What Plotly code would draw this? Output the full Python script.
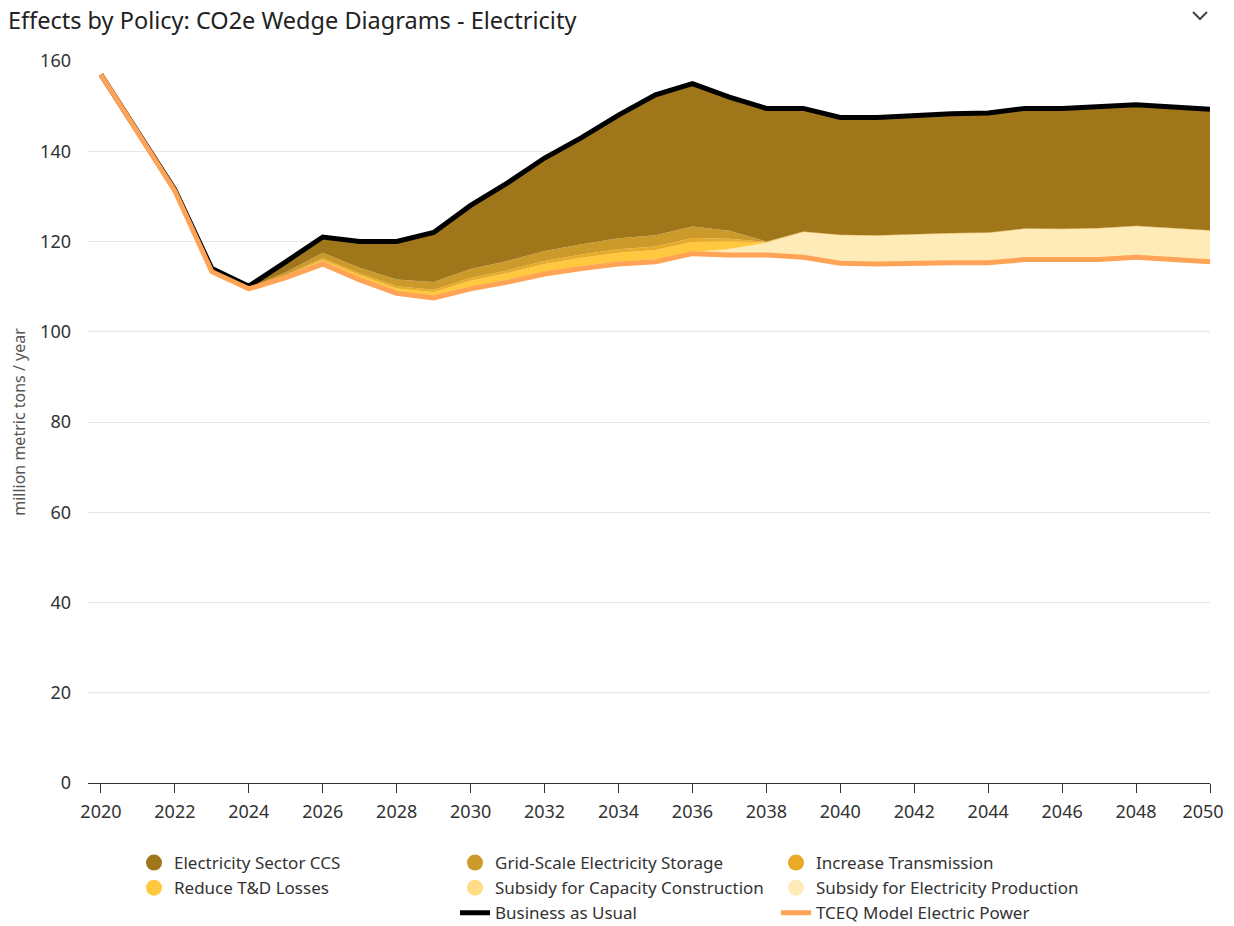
import plotly.graph_objects as go

years = list(range(2020, 2051))

tceq = [157, 144, 131.2, 113.3, 109.5, 112, 115, 111.5, 108.5, 107.5,
        109.5, 111, 112.8, 114, 115, 115.5, 117.3, 117, 117, 116.5,
        115.2, 115, 115.2, 115.3, 115.3, 116, 116, 116, 116.5, 116, 115.5]

bau = [157, 144, 131.5, 114, 110.1, 115.5, 121, 120, 120, 122,
       128, 133, 138.5, 143, 148, 152.5, 155, 152, 149.5, 149.5,
       147.5, 147.5, 148, 148.3, 148.5, 149.5, 149.5, 150, 150.3, 149.8, 149.3]

sub_prod = [0, 0, 0, 0, 0, 0, 0, 0, 0, 0,
            0, 0, 0, 0, 0, 0, 0, 1.2, 2.7, 5.6,
            6.2, 6.3, 6.4, 6.5, 6.6, 6.8, 6.7, 6.9, 6.9, 6.9, 6.9]
sub_cap = [0, 0, 0, 0, 0, 0.1, 0.3, 0.3, 0.3, 0.4,
           0.5, 0.5, 0.5, 0.5, 0.5, 0.5, 0.4, 0.2, 0, 0,
           0, 0, 0, 0, 0, 0, 0, 0, 0, 0, 0]
td_loss = [0, 0, 0, 0, 0.1, 0.3, 0.6, 0.7, 0.8, 0.9,
           1.3, 1.5, 1.7, 1.9, 2.0, 2.1, 2.2, 1.6, 0.1, 0,
           0, 0, 0, 0, 0, 0, 0, 0, 0, 0, 0]
transmission = [0, 0, 0, 0, 0, 0.2, 0.4, 0.4, 0.5, 0.5,
                0.6, 0.6, 0.7, 0.7, 0.8, 0.8, 0.9, 0.6, 0.1, 0.1,
                0.1, 0.1, 0.1, 0.1, 0.1, 0.1, 0.1, 0.1, 0.1, 0.1, 0.1]
grid_storage = [0, 0, 0, 0.1, 0.1, 0.6, 1.2, 1.3, 1.5, 1.7,
                2.0, 2.1, 2.2, 2.3, 2.4, 2.5, 2.5, 1.8, 0.1, 0,
                0, 0, 0, 0, 0, 0, 0, 0, 0, 0, 0]
ccs = [0, 0, 0.3, 0.6, 0.4, 2.3, 3.5, 5.8, 8.4, 11,
       14.1, 17.3, 20.6, 23.6, 27.3, 31.1, 31.7, 29.6, 29.6, 27.3,
       26, 26.1, 26.3, 26.4, 26.5, 26.6, 26.7, 27, 26.8, 26.8, 26.8]

y_ticks = [0, 20, 40, 60, 80, 100, 120, 140, 160]
x_ticks = list(range(2020, 2051, 2))
# last label padded with no-break spaces so it stays inside the page like the original
x_tick_labels = [str(v) for v in x_ticks[:-1]] + ["2050\u00a0\u00a0\u00a0"]

wedges = [
    ("Subsidy for Electricity Production", sub_prod, "#FFEBB8", "legend3"),
    ("Subsidy for Capacity Construction", sub_cap, "#FFDC85", "legend2"),
    ("Reduce T&D Losses", td_loss, "#FFC83F", "legend"),
    ("Increase Transmission", transmission, "#E9AA27", "legend3"),
    ("Grid-Scale Electricity Storage", grid_storage, "#CC9A2B", "legend2"),
    ("Electricity Sector CCS", ccs, "#A0761B", "legend"),
]
legend_rank = {
    "Electricity Sector CCS": 1, "Reduce T&D Losses": 2,
    "Grid-Scale Electricity Storage": 1, "Subsidy for Capacity Construction": 2,
    "Increase Transmission": 1, "Subsidy for Electricity Production": 2,
}

fig = go.Figure()
# invisible base of the stack at the policy (TCEQ) line
fig.add_trace(go.Scatter(x=years, y=tceq, stackgroup="w", mode="lines",
                         line=dict(width=0), fillcolor="rgba(0,0,0,0)",
                         showlegend=False, hoverinfo="skip"))
for name, vals, col, lg in wedges:
    fig.add_trace(go.Scatter(x=years, y=vals, stackgroup="w", mode="lines",
                             line=dict(width=0, color=col), fillcolor=col,
                             name=name, showlegend=False))
# legend entries with round markers
for name, vals, col, lg in sorted(wedges, key=lambda w: legend_rank[w[0]]):
    fig.add_trace(go.Scatter(x=[None], y=[None], mode="markers",
                             marker=dict(symbol="circle", size=16, color=col),
                             name=name, legend=lg, legendrank=legend_rank[name]))

fig.add_trace(go.Scatter(x=years, y=bau, mode="lines", name="Business as Usual",
                         line=dict(color="#000000", width=5), legend="legend2",
                         legendrank=3))
fig.add_trace(go.Scatter(x=years, y=tceq, mode="lines", name="TCEQ Model Electric Power",
                         line=dict(color="#FFA456", width=5), legend="legend3",
                         legendrank=3))

font_family = "Noto Sans, Open Sans, sans-serif"
leg_common = dict(orientation="v", yanchor="top", xanchor="left", traceorder="normal",
                  font=dict(size=17, color="#333333", family=font_family),
                  bgcolor="rgba(0,0,0,0)", tracegroupgap=0, itemclick=False)

W, H = 1218, 918
PL, PR, PT, PB = 80, 1202, 53, 775
PW, PH = PR - PL, PB - PT

def lx(px):
    return (px - PL) / PW

leg_y = -(837 - PB) / PH

fig.update_layout(
    width=W, height=H,
    margin=dict(l=PL, r=W - PR, t=PT, b=H - PB, autoexpand=False),
    paper_bgcolor="white", plot_bgcolor="white",
    font=dict(family=font_family, color="#333333"),
    title=dict(text="Effects by Policy: CO2e Wedge Diagrams - Electricity",
               x=0, xanchor="left", xref="container",
               y=1 - 13 / H, yanchor="middle", yref="container",
               font=dict(size=23.5, color="#222222", family=font_family)),
    xaxis=dict(range=[2019.65, 2050], tickvals=x_ticks, ticktext=x_tick_labels,
               showgrid=False, showline=True, linecolor="#333333", linewidth=1,
               ticks="outside", ticklen=9, tickcolor="#333333", ticklabelstandoff=3,
               ticklabeloverflow="allow",
               tickfont=dict(size=18, color="#333333"), zeroline=False),
    yaxis=dict(range=[0, 160], tickvals=y_ticks, showgrid=True, gridcolor="#E6E6E6",
               gridwidth=1, zeroline=False, showline=False, ticks="", ticklabelstandoff=16,
               tickfont=dict(size=18, color="#333333"),
               title=dict(text="million metric tons / year", standoff=16,
                          font=dict(size=16, color="#555555"))),
    legend=dict(x=lx(126), y=leg_y, **leg_common),
    legend2=dict(x=lx(447), y=leg_y, **leg_common),
    legend3=dict(x=lx(768), y=leg_y, **leg_common),
    showlegend=True,
    shapes=[dict(type="path", xref="paper", yref="paper", xsizemode="pixel",
                 ysizemode="pixel", xanchor=1, yanchor=1,
                 path="M -17,49 L -10,42 L -3,49",
                 line=dict(color="#444444", width=2))],
)

fig.write_html("out.html", config={"displayModeBar": False})
